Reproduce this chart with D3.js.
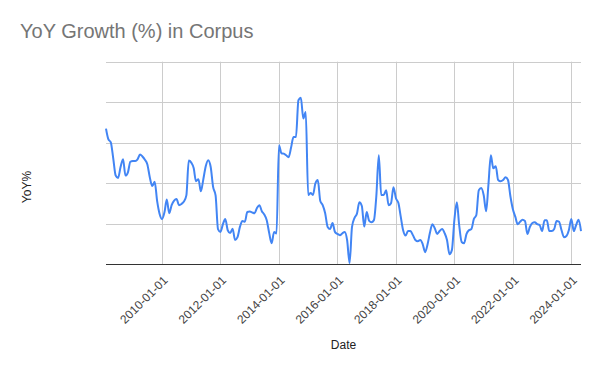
<!DOCTYPE html>
<html>
<head>
<meta charset="utf-8">
<script src="https://cdn.jsdelivr.net/npm/d3@7"></script>
<style>
  html, body { margin: 0; padding: 0; background: #fff; }
  svg { display: block; font-family: Arial, "Liberation Sans", sans-serif; }
</style>
</head>
<body>
<svg id="chart" width="600" height="371"></svg>
<script>
// ---- data ----
const startMonth = "2008-02";           // first monthly observation
const yoyValues = [
  33.5,30.9,30.1,26.2,21.9,21.3,24.0,25.9,21.9,22.7,25.3,25.5,
  25.5,25.9,27.1,26.6,25.8,24.7,21.5,19.3,20.4,15.6,12.5,11.2,
  12.9,16.0,12.6,14.6,15.7,16.1,14.6,14.9,15.5,17.0,25.6,25.1,
  23.7,20.5,21.0,18.0,21.0,24.2,25.7,24.0,19.1,17.0,8.7,8.0,
  9.9,11.2,8.4,7.7,8.8,6.0,6.7,9.3,10.7,10.5,12.9,13.0,
  12.8,12.6,13.9,14.6,13.1,12.3,10.9,7.7,5.2,8.0,7.6,29.4,
  27.4,27.3,26.9,26.4,28.8,31.4,31.4,40.5,41.1,36.0,37.6,17.1,
  17.6,17.1,20.0,20.8,15.6,14.6,12.6,9.2,8.7,10.2,8.0,7.5,
  7.2,7.6,8.0,6.0,0.3,9.2,11.4,12.5,15.3,14.4,9.3,12.9,
  10.7,10.4,10.9,16.8,26.9,17.1,17.1,18.3,14.6,15.1,19.0,16.3,
  15.1,11.9,8.4,7.1,8.2,8.2,7.2,6.0,5.7,6.0,5.0,3.0,
  5.0,7.7,9.9,8.9,7.5,8.2,8.7,7.7,6.0,2.5,3.5,10.9,
  15.3,9.7,5.5,5.2,7.5,8.4,8.7,11.2,12.1,18.3,18.8,17.1,
  13.1,19.5,26.9,23.7,24.2,20.8,20.5,20.8,21.5,20.8,16.8,13.6,
  11.7,9.9,10.5,11.0,10.7,7.5,9.2,10.2,10.4,9.9,9.7,8.2,
  10.9,10.9,8.2,8.2,8.7,10.7,10.5,8.4,6.7,7.0,8.4,11.2,
  8.2,9.7,11.0,8.2
];
const xTickLabels = ["2010-01-01","2012-01-01","2014-01-01","2016-01-01",
                     "2018-01-01","2020-01-01","2022-01-01","2024-01-01"];
const yGridValues = [0,10,20,30,40,50];
const titleText = "YoY Growth (%) in Corpus";
const xAxisTitle = "Date";
const yAxisTitle = "YoY%";

// ---- build ----
(function () {
const parseMonth = d3.timeParse("%Y-%m");
const parseDay = d3.timeParse("%Y-%m-%d");
const t0 = parseMonth(startMonth);
const data = yoyValues.map((v, i) => ({ date: d3.timeMonth.offset(t0, i), value: v }));

const svg = d3.select("#chart");
const plotL = 106, plotR = 581, plotT = 61.7, plotB = 264.3;

const x = d3.scaleTime()
  .domain([data[0].date, data[data.length - 1].date])
  .range([plotL, plotR]);
const y = d3.scaleLinear().domain([0, 50]).range([plotB, plotT]);

const ticks = xTickLabels.map(parseDay);

// horizontal grid
svg.append("g").selectAll("line").data(yGridValues.slice(1)).join("line")
  .attr("x1", plotL).attr("x2", plotR)
  .attr("y1", d => Math.round(y(d)) + 0.5).attr("y2", d => Math.round(y(d)) + 0.5)
  .attr("stroke", "#cccccc").attr("stroke-width", 1);

// vertical grid
svg.append("g").selectAll("line").data(ticks).join("line")
  .attr("x1", d => Math.round(x(d)) + 0.5).attr("x2", d => Math.round(x(d)) + 0.5)
  .attr("y1", plotT).attr("y2", plotB)
  .attr("stroke", "#cccccc").attr("stroke-width", 1);

// line
const line = d3.line()
  .x(d => x(d.date)).y(d => y(d.value))
  .curve(d3.curveMonotoneX);
svg.append("path").datum(data)
  .attr("d", line)
  .attr("fill", "none")
  .attr("stroke", "#4285f4")
  .attr("stroke-width", 2)
  .attr("stroke-linejoin", "round");

// baseline
svg.append("line")
  .attr("x1", plotL).attr("x2", plotR)
  .attr("y1", Math.round(y(0)) + 0.5).attr("y2", Math.round(y(0)) + 0.5)
  .attr("stroke", "#333333").attr("stroke-width", 1);

// x tick labels
svg.append("g").selectAll("text").data(ticks).join("text")
  .attr("transform", (d) => `translate(${x(d) + 6.5},281) rotate(-45)`)
  .attr("text-anchor", "end")
  .attr("font-size", 12)
  .attr("fill", "#444444")
  .text((d, i) => xTickLabels[i]);

// titles
svg.append("text")
  .attr("x", 20).attr("y", 38)
  .attr("font-size", 20)
  .attr("fill", "#757575")
  .text(titleText);

svg.append("text")
  .attr("x", (plotL + plotR) / 2).attr("y", 349)
  .attr("text-anchor", "middle")
  .attr("font-size", 12)
  .attr("fill", "#222222")
  .text(xAxisTitle);

svg.append("text")
  .attr("transform", "translate(31,187) rotate(-90)")
  .attr("text-anchor", "middle")
  .attr("font-size", 12)
  .attr("fill", "#222222")
  .text(yAxisTitle);
})();
</script>
</body>
</html>
